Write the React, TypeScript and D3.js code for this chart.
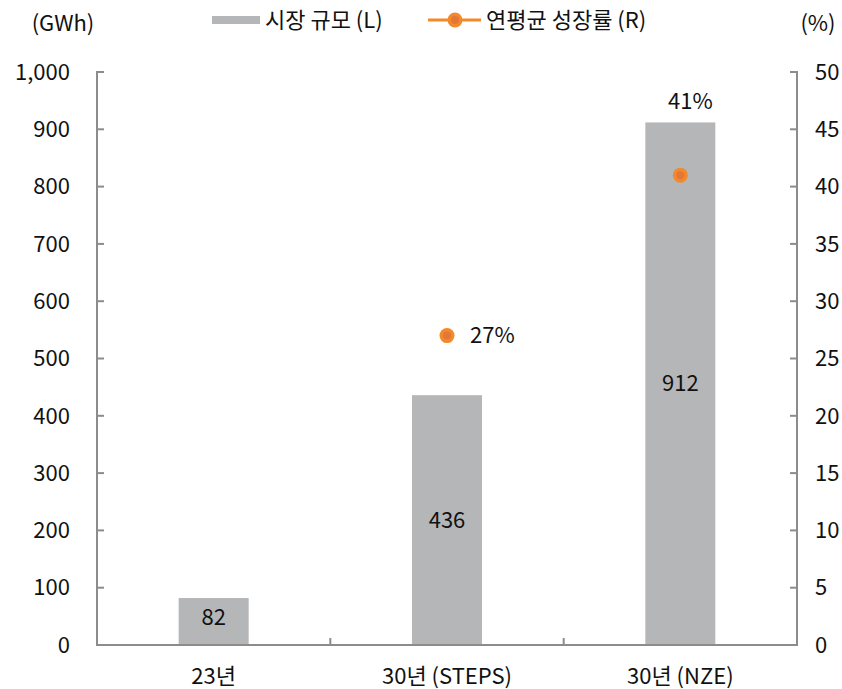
import React from 'react';
import * as d3 from 'd3';

const categories = ['23년', '30년 (STEPS)', '30년 (NZE)'];
const marketSize = [82, 436, 912];
const growthCats = ['30년 (STEPS)', '30년 (NZE)'];
const growthRate = [27, 41];
const leftTicks = [0, 100, 200, 300, 400, 500, 600, 700, 800, 900, 1000];
const rightTicks = [0, 5, 10, 15, 20, 25, 30, 35, 40, 45, 50];

const W = 842, H = 689;
const m = { left: 97, right: 797, top: 72, bottom: 645 };
const FONT = "'Noto Sans CJK KR', 'Noto Sans', sans-serif";
const FS = 22;
const AXIS = '#8c8c8c';
const BAR = '#b5b6b8';
const ORANGE = '#f2892a';

export default function App() {
  const x = d3.scaleBand().domain(categories).range([m.left, m.right]).paddingInner(0.7).paddingOuter(0.35);
  const yL = d3.scaleLinear().domain([0, 1000]).range([m.bottom, m.top]);
  const yR = d3.scaleLinear().domain([0, 50]).range([m.bottom, m.top]);
  const fmt = d3.format(',');
  const step = (m.right - m.left) / categories.length;

  return (
    <svg width={W} height={H} style={{ position: 'absolute', left: 0, top: 0 }} fontFamily={FONT}>
      {/* bars */}
      {categories.map((c, i) => (
        <g key={c}>
          <rect x={x(c)} y={yL(marketSize[i])} width={x.bandwidth()} height={yL(0) - yL(marketSize[i])} fill={BAR} />
          <text x={x(c)! + x.bandwidth() / 2} y={Math.min((yL(marketSize[i]) + yL(0)) / 2, 617)} textAnchor="middle" dy="0.35em" fontSize={FS} fill="#111">
            {marketSize[i]}
          </text>
        </g>
      ))}

      {/* axes */}
      <path d={`M${m.left + 7},${m.top}H${m.left}V${m.bottom}H${m.right}V${m.top}H${m.right - 7}`} fill="none" stroke={AXIS} strokeWidth={2} />
      {leftTicks.map(t => (
        <g key={'l' + t}>
          <line x1={m.left} x2={m.left + 7} y1={yL(t)} y2={yL(t)} stroke={AXIS} strokeWidth={2} />
          <text x={70} y={yL(t)} textAnchor="end" dy="0.35em" fontSize={FS} fill="#111">{fmt(t)}</text>
        </g>
      ))}
      {rightTicks.map(t => (
        <g key={'r' + t}>
          <line x1={m.right - 7} x2={m.right} y1={yR(t)} y2={yR(t)} stroke={AXIS} strokeWidth={2} />
          <text x={815} y={yR(t)} textAnchor="start" dy="0.35em" fontSize={FS} fill="#111">{t}</text>
        </g>
      ))}
      {[1, 2].map(k => (
        <line key={'x' + k} x1={m.left + step * k} x2={m.left + step * k} y1={m.bottom} y2={m.bottom - 7} stroke={AXIS} strokeWidth={2} />
      ))}
      {categories.map(c => (
        <text key={'c' + c} x={x(c)! + x.bandwidth() / 2} y={676} textAnchor="middle" dy="0.35em" fontSize={FS} fill="#111">{c}</text>
      ))}

      {/* growth points */}
      {growthCats.map((c, i) => {
        const cx = x(c)! + x.bandwidth() / 2;
        const cy = yR(growthRate[i]);
        return (
          <g key={'g' + c}>
            <circle cx={cx} cy={cy} r={7.5} fill={ORANGE} />
            <circle cx={cx} cy={cy} r={4} fill="#e5763a" />
          </g>
        );
      })}
      <text x={x(growthCats[0])! + x.bandwidth() / 2 + 23} y={yR(growthRate[0])} dy="0.35em" fontSize={FS} fill="#111">{growthRate[0]}%</text>
      <text x={x(growthCats[1])! + x.bandwidth() / 2 + 10} y={101} textAnchor="middle" dy="0.35em" fontSize={FS} fill="#111">{growthRate[1]}%</text>

      {/* unit labels */}
      <text x={63} y={23} textAnchor="middle" dy="0.35em" fontSize={FS} fill="#111">(GWh)</text>
      <text x={818} y={23} textAnchor="middle" dy="0.35em" fontSize={FS} fill="#111">(%)</text>

      {/* legend */}
      <rect x={212} y={16} width={48} height={8} fill={BAR} />
      <text x={265} y={20} dy="0.35em" fontSize={FS} fill="#111">시장 규모 (L)</text>
      <line x1={428} x2={481} y1={20} y2={20} stroke={ORANGE} strokeWidth={3} />
      <circle cx={455} cy={20} r={7.5} fill={ORANGE} />
      <circle cx={455} cy={20} r={4} fill="#e5763a" />
      <text x={486} y={20} dy="0.35em" fontSize={FS} fill="#111">연평균 성장률 (R)</text>
    </svg>
  );
}
